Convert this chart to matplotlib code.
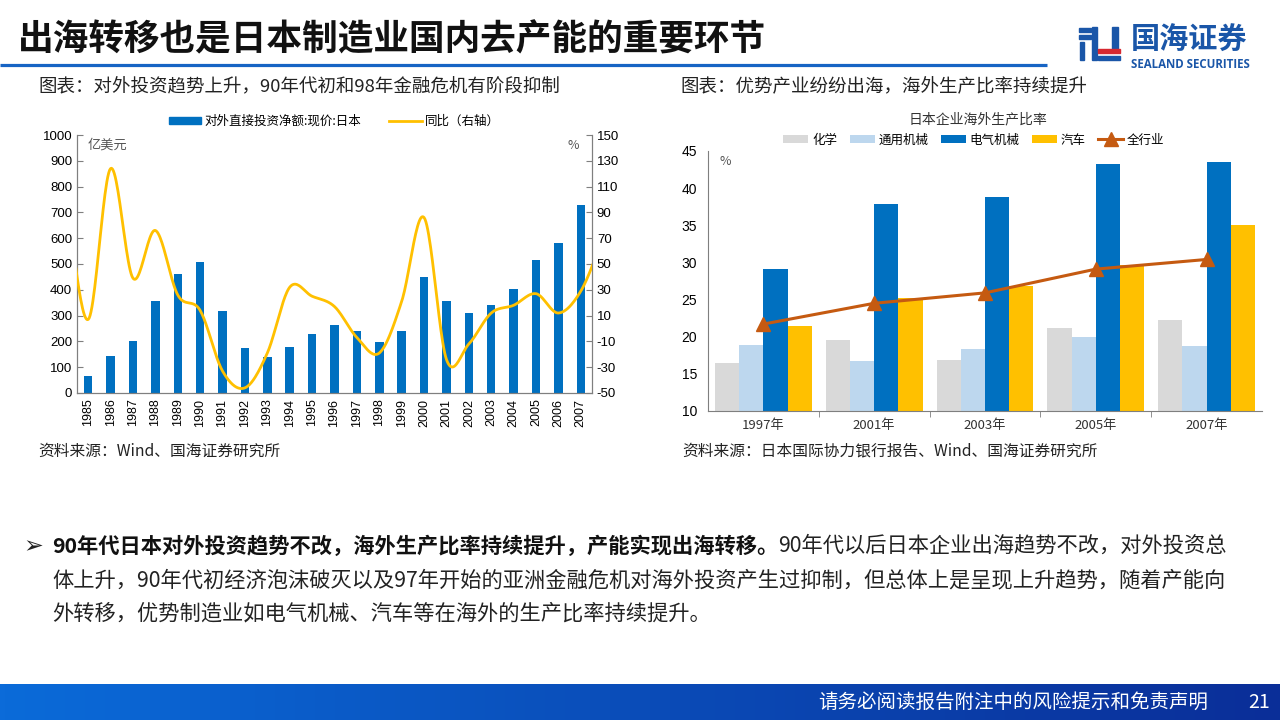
import numpy as np
import matplotlib.pyplot as plt
from matplotlib.colors import LinearSegmentedColormap
from matplotlib.patches import Rectangle, Patch
from matplotlib.lines import Line2D

plt.rcParams['font.family'] = ['Noto Sans CJK SC', 'DejaVu Sans']
plt.rcParams['axes.unicode_minus'] = False

# left chart: Japan outward FDI (100m USD) and yoy (%)
years = ['1985', '1986', '1987', '1988', '1989', '1990', '1991', '1992', '1993',
         '1994', '1995', '1996', '1997', '1998', '1999', '2000', '2001', '2002',
         '2003', '2004', '2005', '2006', '2007']
fdi = [65, 145, 200, 355, 462, 508, 317, 173, 138, 180, 228, 265, 240, 199,
       242, 451, 356, 309, 343, 405, 517, 581, 730]
# yoy series 1984..2008 (first and last only partly visible at the axis edges)
yoy = [100, 7, 124, 39, 76, 26, 14, -33, -46, -19, 32, 25, 17, -7, -19, 21,
       86, -24, -12, 12, 18, 27, 12, 29, 70]

# right chart: overseas production ratio (%)
groups = ['1997年', '2001年', '2003年', '2005年', '2007年']
chem = [16.5, 19.5, 16.8, 21.2, 22.3]
general_mach = [18.9, 16.7, 18.4, 19.9, 18.7]
elec_mach = [29.1, 37.9, 38.8, 43.3, 43.5]
autos = [21.5, 25.2, 26.8, 29.6, 35.0]
all_ind = [21.7, 24.5, 25.9, 29.1, 30.4]


def smooth(x, y, n=24):
    # Catmull-Rom curve through the points, like Excel's smoothed line
    x = np.asarray(x, float)
    y = np.asarray(y, float)
    yp = np.r_[2 * y[0] - y[1], y, 2 * y[-1] - y[-2]]
    t = np.linspace(0, 1, n, endpoint=False)
    xs, ys = [], []
    for i in range(len(x) - 1):
        p0, p1, p2, p3 = yp[i], yp[i + 1], yp[i + 2], yp[i + 3]
        seg = 0.5 * (2 * p1 + (-p0 + p2) * t + (2 * p0 - 5 * p1 + 4 * p2 - p3) * t ** 2
                     + (-p0 + 3 * p1 - 3 * p2 + p3) * t ** 3)
        xs.append(x[i] + (x[i + 1] - x[i]) * t)
        ys.append(seg)
    xs.append([x[-1]])
    ys.append([y[-1]])
    return np.concatenate(xs), np.concatenate(ys)


fig = plt.figure(figsize=(12.8, 7.2), dpi=100)

# page layer in pixel coordinates
bg = fig.add_axes([0, 0, 1, 1])
grad = np.linspace(0, 1, 256).reshape(1, -1)
cmap = LinearSegmentedColormap.from_list('foot', ['#0b6bd9', '#0a2e98'])
bg.imshow(grad, extent=[0, 1280, 720, 684], aspect='auto', cmap=cmap)
bg.set_xlim(0, 1280)
bg.set_ylim(720, 0)
bg.axis('off')

bg.text(18, 40, '出海转移也是日本制造业国内去产能的重要环节', fontsize=25.7,
        fontweight='bold', va='center', ha='left', color='#111111')
bg.plot([0, 1047], [65, 65], color='#1764c4', lw=2.3, solid_capstyle='butt')

# logo
blue_logo = '#1a56a8'
for r in [(1079, 28, 12, 3.5), (1079, 35, 12, 3.5), (1080, 42, 4, 18), (1092, 27, 5, 33),
          (1112, 27, 6, 22)]:
    bg.add_patch(Rectangle(r[:2], r[2], r[3], color=blue_logo))
bg.add_patch(Rectangle((1098, 49), 22, 4, color='#d7282f'))
bg.add_patch(Rectangle((1098, 55.5), 22, 4.5, color=blue_logo))
bg.text(1131, 40, '国海证券', fontsize=21, fontweight='bold', color=blue_logo,
        va='center', ha='left')
bg.text(1131, 64, 'SEALAND SECURITIES', fontsize=8.3, fontweight='bold',
        color=blue_logo, va='center', ha='left', family=['Open Sans', 'DejaVu Sans'])

# chart captions and sources
bg.text(38, 87, '图表：对外投资趋势上升，90年代初和98年金融危机有阶段抑制',
        fontsize=13.3, va='center', ha='left', color='#222222')
bg.text(680, 87, '图表：优势产业纷纷出海，海外生产比率持续提升',
        fontsize=13.3, va='center', ha='left', color='#222222')
bg.text(38, 451, '资料来源：Wind、国海证券研究所', fontsize=11.3, va='center',
        ha='left', color='#222222')
bg.text(682, 451, '资料来源：日本国际协力银行报告、Wind、国海证券研究所', fontsize=11.3,
        va='center', ha='left', color='#222222')

# bullet paragraph
bg.text(23, 546, '➢', fontsize=17, va='center', ha='left', family=['DejaVu Sans'],
        color='#222222')
t1 = bg.text(52, 546, '90年代日本对外投资趋势不改，海外生产比率持续提升，产能实现出海转移。',
             fontsize=15.3, fontweight='bold', va='center', ha='left', color='#111111')
bg.annotate('90年代以后日本企业出海趋势不改，对外投资总', xy=(1, 0), xycoords=t1,
            va='bottom', ha='left', fontsize=15.3, color='#222222')
bg.text(52, 580, '体上升，90年代初经济泡沫破灭以及97年开始的亚洲金融危机对海外投资产生过抑制，'
        '但总体上是呈现上升趋势，随着产能向', fontsize=15.3, va='center', ha='left',
        color='#222222')
bg.text(52, 613, '外转移，优势制造业如电气机械、汽车等在海外的生产比率持续提升。',
        fontsize=15.3, va='center', ha='left', color='#222222')

# footer
bg.text(818, 702, '请务必阅读报告附注中的风险提示和免责声明', fontsize=14, color='white',
        va='center', ha='left')
bg.text(1248, 702, '21', fontsize=14, color='white', va='center', ha='left')

# ---- left chart ----
axL = fig.add_axes([77 / 1280, 1 - 393 / 720, 515 / 1280, 258 / 720])
x = np.arange(len(years))
axL.bar(x, fdi, width=0.38, color='#0070c0', zorder=2)
axL.set_xlim(-0.5, len(years) - 0.5)
axL.set_ylim(0, 1000)
axL.set_yticks(range(0, 1001, 100))
axL.set_xticks(x)
axL.set_xticklabels(years, rotation=90, fontsize=9, family=['Liberation Sans', 'DejaVu Sans'])
axL.tick_params(axis='x', length=0, pad=4)
axL.tick_params(axis='y', direction='in', length=4, labelsize=9.5, color='#7f7f7f')
for lab in axL.get_yticklabels():
    lab.set_family(['Liberation Sans', 'DejaVu Sans'])
axL.spines['top'].set_visible(False)
for s in ['left', 'bottom', 'right']:
    axL.spines[s].set_color('#7f7f7f')
axL.text(0.02, 0.985, '亿美元', transform=axL.transAxes, va='top', ha='left',
         fontsize=9.5, color='#555555')

ax2 = axL.twinx()
xl = np.arange(-1, len(years) + 1)
sx, sy = smooth(xl, yoy)
ax2.plot(sx, sy, color='#ffc000', lw=2, zorder=3)
ax2.set_ylim(-50, 150)
ax2.set_yticks(range(-50, 151, 20))
ax2.set_xlim(-0.5, len(years) - 0.5)
ax2.tick_params(axis='y', direction='in', length=4, labelsize=9.5, color='#7f7f7f')
for lab in ax2.get_yticklabels():
    lab.set_family(['Liberation Sans', 'DejaVu Sans'])
ax2.spines['top'].set_visible(False)
for s in ['left', 'bottom', 'right']:
    ax2.spines[s].set_color('#7f7f7f')
ax2.text(0.975, 0.985, '%', transform=ax2.transAxes, va='top', ha='right',
         fontsize=9, color='#555555')
ax2.legend(handles=[Patch(color='#0070c0'), Line2D([], [], color='#ffc000', lw=2)],
           labels=['对外直接投资净额:现价:日本', '同比（右轴）'], loc='lower center',
           bbox_to_anchor=(0.5, 1.0), ncol=2, frameon=False, fontsize=9,
           handlelength=2.6, handleheight=0.5, columnspacing=2.2, handletextpad=0.3,
           borderaxespad=0.2)

# ---- right chart ----
axR = fig.add_axes([708 / 1280, 1 - 411 / 720, 554 / 1280, 260 / 720])
g = np.arange(len(groups))
w = 0.218
series = [(chem, '#d9d9d9', '化学'), (general_mach, '#bdd7ee', '通用机械'),
          (elec_mach, '#0070c0', '电气机械'), (autos, '#ffc000', '汽车')]
handles = []
for k, (vals, col, name) in enumerate(series):
    handles.append(axR.bar(g + (k - 1.5) * w, vals, w, color=col, label=name, zorder=2))
line, = axR.plot(g, all_ind, color='#c55a11', lw=2.2, marker='^', ms=10, label='全行业',
                 zorder=3)
handles.append(line)
axR.set_xlim(-0.5, len(groups) - 0.5)
axR.set_ylim(10, 45)
axR.set_yticks(range(10, 46, 5))
axR.set_xticks(g)
axR.set_xticklabels(groups, fontsize=9.5, color='#333333')
axR.set_xticks(g[:-1] + 0.5, minor=True)
axR.tick_params(axis='x', which='major', length=0, pad=6)
axR.tick_params(axis='x', which='minor', length=4, direction='out', color='#7f7f7f')
axR.tick_params(axis='y', length=0, labelsize=10, pad=8)
for lab in axR.get_yticklabels():
    lab.set_family(['Liberation Sans', 'DejaVu Sans'])
axR.spines['top'].set_visible(False)
axR.spines['right'].set_visible(False)
axR.spines['left'].set_color('#7f7f7f')
axR.spines['bottom'].set_color('#7f7f7f')
axR.text(0.02, 0.985, '%', transform=axR.transAxes, va='top', ha='left',
         fontsize=9, color='#555555')
axR.text(0.487, 1.123, '日本企业海外生产比率', transform=axR.transAxes, va='center',
         ha='center', fontsize=10, color='#333333')
axR.legend(handles=handles, labels=[s[2] for s in series] + ['全行业'], loc='center',
           bbox_to_anchor=(0.48, 1.042), ncol=5, frameon=False, fontsize=9,
           handlelength=2.0, handleheight=0.6, columnspacing=1.0, handletextpad=0.3)

fig.savefig('out.png', dpi=100)
